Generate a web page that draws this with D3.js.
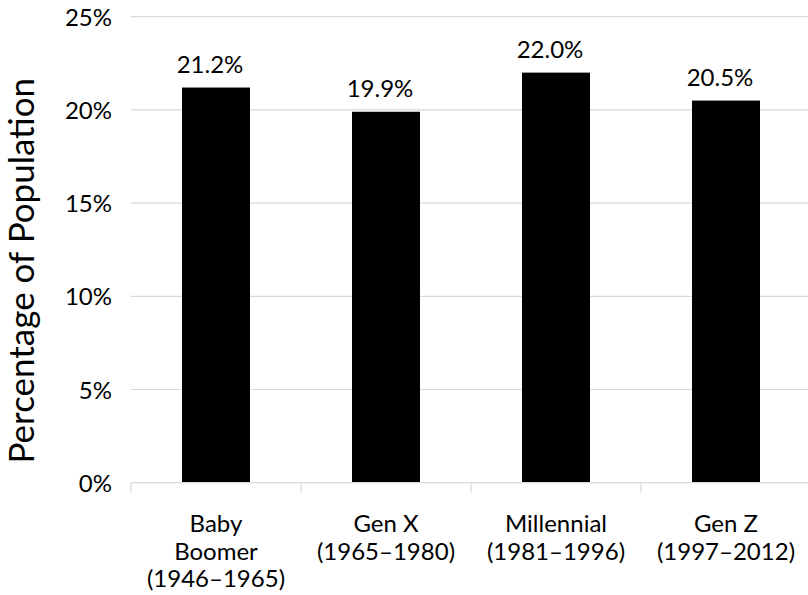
<!DOCTYPE html>
<html>
<head>
<meta charset="utf-8">
<script src="https://cdn.jsdelivr.net/npm/d3@7"></script>
<style>
  html, body { margin: 0; padding: 0; background: #fff; }
  svg { display: block; font-family: Lato, "Open Sans", sans-serif; }
</style>
</head>
<body>
<svg id="chart" width="808" height="595"></svg>
<script>
// Share of the population by generation
const generations = ["Baby Boomer", "Gen X", "Millennial", "Gen Z"];
const generationYears = ["(1946\u20131965)", "(1965\u20131980)", "(1981\u20131996)", "(1997\u20132012)"];
const shares = [21.2, 19.9, 22.0, 20.5];
const yTicks = [0, 5, 10, 15, 20, 25];
const yTitle = "Percentage of Population";

const svg = d3.select("#chart");
const plot = { left: 131, right: 811, top: 16.7, bottom: 482.7 };

const x = d3.scaleBand()
  .domain(generations)
  .range([plot.left, plot.right])
  .paddingInner(0.6)
  .paddingOuter(0.3);

const y = d3.scaleLinear()
  .domain([0, 25])
  .range([plot.bottom, plot.top]);

const gridColor = "#d9d9d9";
const textColor = "#000";

// horizontal gridlines
svg.append("g")
  .selectAll("line")
  .data(yTicks.filter(t => t > 0))
  .join("line")
  .attr("x1", plot.left)
  .attr("x2", plot.right)
  .attr("y1", d => y(d))
  .attr("y2", d => y(d))
  .attr("stroke", gridColor)
  .attr("stroke-width", 1.2);

// y axis labels
const yAxis = svg.append("g")
  .attr("transform", `translate(${plot.left},0)`)
  .call(d3.axisLeft(y).tickValues(yTicks).tickFormat(d => d + "%").tickSize(0).tickPadding(19));
yAxis.select(".domain").remove();
yAxis.selectAll("text")
  .attr("font-size", 24)
  .attr("font-family", "Lato, 'Open Sans', sans-serif")
  .attr("fill", textColor)
  .attr("dy", "0.36em");

// bars
svg.append("g")
  .selectAll("rect")
  .data(shares)
  .join("rect")
  .attr("x", (d, i) => x(generations[i]))
  .attr("width", x.bandwidth())
  .attr("y", d => y(d))
  .attr("height", d => y(0) - y(d))
  .attr("fill", "#000");

// value labels above the bars
svg.append("g")
  .selectAll("text")
  .data(shares)
  .join("text")
  .attr("x", (d, i) => x(generations[i]) + x.bandwidth() / 2 - 6)
  .attr("y", d => y(d) - 15)
  .attr("text-anchor", "middle")
  .attr("font-size", 24)
  .attr("fill", textColor)
  .text(d => d.toFixed(1) + "%");

// x axis baseline and category ticks
svg.append("line")
  .attr("x1", plot.left)
  .attr("x2", plot.right)
  .attr("y1", y(0))
  .attr("y2", y(0))
  .attr("stroke", gridColor)
  .attr("stroke-width", 1.2);

const tickXs = generations.map(g => x(g) - x.step() * x.paddingInner() / 2).concat([plot.right]);
svg.append("g")
  .selectAll("line")
  .data(tickXs)
  .join("line")
  .attr("x1", d => d)
  .attr("x2", d => d)
  .attr("y1", y(0))
  .attr("y2", y(0) + 10)
  .attr("stroke", gridColor)
  .attr("stroke-width", 1.2);

// category labels (name, then years on the following line)
const lineH = 27.5;
const catG = svg.append("g");
generations.forEach((g, i) => {
  const cx = x(g) + x.bandwidth() / 2;
  const words = g === "Baby Boomer" ? ["Baby", "Boomer"] : [g];
  const lines = words.concat([generationYears[i]]);
  const t = catG.append("text")
    .attr("text-anchor", "middle")
    .attr("font-size", 24)
    .attr("fill", textColor);
  lines.forEach((ln, j) => {
    t.append("tspan")
      .attr("x", cx)
      .attr("y", 532 + j * lineH)
      .text(ln);
  });
});

// y axis title
svg.append("text")
  .attr("transform", `translate(34,${(plot.top + plot.bottom) / 2 + 21}) rotate(-90)`)
  .attr("text-anchor", "middle")
  .attr("font-size", 35)
  .attr("fill", textColor)
  .text(yTitle);
</script>
</body>
</html>
